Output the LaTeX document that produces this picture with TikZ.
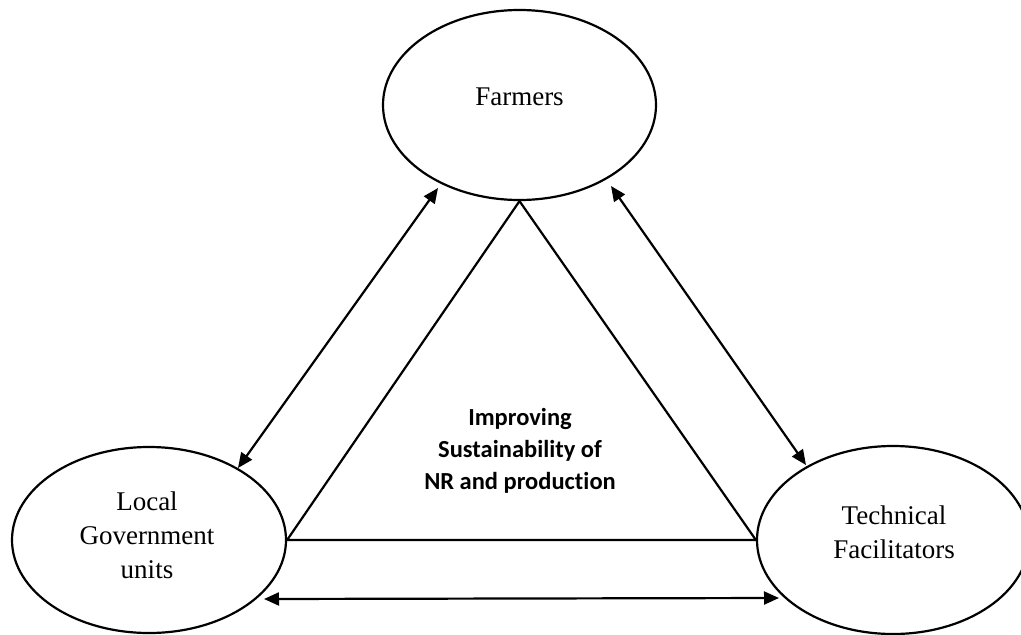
\documentclass[tikz,border=0pt]{standalone}
\usepackage{fontspec}
\setmainfont{Liberation Serif}
\newfontfamily\calibrilike[Ligatures=NoCommon]{Carlito}
\usetikzlibrary{shapes.geometric,arrows.meta}
\begin{document}
\begin{tikzpicture}[x=1pt,y=-1pt,
  actor/.style={ellipse,draw,line width=2.2pt,inner sep=0pt,align=center,
    font=\fontsize{27}{34}\selectfont},
  link/.style={line width=2.2pt,
    {Triangle[length=15pt,width=13pt]}-{Triangle[length=15pt,width=13pt]}},
  edge/.style={line width=2.2pt,line join=miter}]
\useasboundingbox (0,0) rectangle (1021,635);
\clip (0,0) rectangle (1021,635);

% the three actors
\node[actor,minimum width=273pt,minimum height=190pt] (farm) at (519.5,105) {};
\node at (519.5,97) {\fontsize{27}{34}\selectfont Farmers};
\node[actor,minimum width=274pt,minimum height=186pt] (lgu) at (149,540) {};
\node[align=center,font=\fontsize{27}{34}\selectfont] at (147,535) {Local\\Government\\units};
\node[actor,minimum width=272pt,minimum height=188pt] (tech) at (893,540) {};
\node[align=center,font=\fontsize{27}{34}\selectfont] at (894,532) {Technical\\Facilitators};

% shared goal in the middle
\draw[edge] (farm.south) -- (lgu.east) -- (tech.west) -- cycle;
\node[align=center,font=\calibrilike\bfseries\fontsize{24.5}{32}\selectfont] (goal) at (520,451)
  {Improving\\Sustainability of\\NR and production};

% two-way links between the actors
\coordinate (fl) at (438,188);
\coordinate (lf) at (238,468);
\coordinate (ft) at (611,186);
\coordinate (tf) at (806,465);
\coordinate (lt) at (264,599);
\coordinate (tl) at (779,598);
\draw[link] (fl) -- (lf);
\draw[link] (ft) -- (tf);
\draw[link] (lt) -- (tl);
\end{tikzpicture}
\end{document}
